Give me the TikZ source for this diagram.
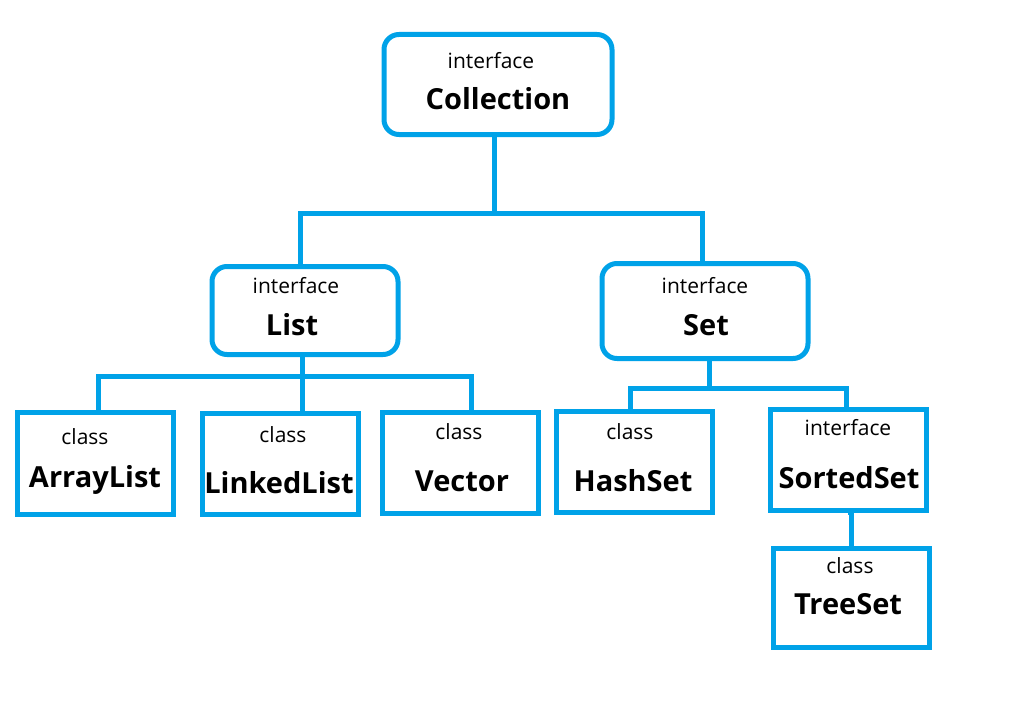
\documentclass[tikz,border=0pt]{standalone}
\usepackage{fontspec}
\setmainfont{Open Sans}
\definecolor{cblue}{HTML}{00A2E8}
\begin{document}
\begin{tikzpicture}[x=1pt,y=-1pt,
  rbox/.style={draw=cblue,line width=5pt,rounded corners=15pt,inner sep=0pt},
  sbox/.style={draw=cblue,line width=5pt,inner sep=0pt},
  kind/.style={inner sep=0pt,font=\fontsize{21}{21}\selectfont},
  cname/.style={inner sep=0pt,font=\fontsize{29}{29}\selectfont\bfseries},
  conn/.style={draw=cblue,line width=5pt,line join=miter}]
\useasboundingbox (0,0) rectangle (1033,709);
% boxes
\node[rbox,minimum width=228pt,minimum height=100pt] (coll) at (498,84.5) {};
\node[rbox,minimum width=186pt,minimum height=88pt] (list) at (305,310.5) {};
\node[rbox,minimum width=206pt,minimum height=95pt] (set) at (705,311) {};
\node[sbox,minimum width=156pt,minimum height=102pt] (al) at (95.5,463.5) {};
\node[sbox,minimum width=156pt,minimum height=101pt] (ll) at (280,463.5) {};
\node[sbox,minimum width=156pt,minimum height=101pt] (vec) at (460,462.5) {};
\node[sbox,minimum width=156pt,minimum height=101pt] (hs) at (634,461.5) {};
\node[sbox,minimum width=156pt,minimum height=101pt] (ss) at (848,459.5) {};
\node[sbox,minimum width=156pt,minimum height=99pt] (ts) at (851,597.5) {};
% texts
\node[kind] (collk) at (491,61) {interface};
\node[cname] (colln) at (498,99) {Collection};
\node[kind] (listk) at (296,286) {interface};
\node[cname] (listn) at (292,325) {List};
\node[kind] (setk) at (705,286) {interface};
\node[cname] (setn) at (706,325) {Set};
\node[kind] (alk) at (85,437) {class};
\node[cname] (aln) at (95,480) {ArrayList};
\node[kind] (llk) at (283,435) {class};
\node[cname] (lln) at (279,483) {LinkedList};
\node[kind] (veck) at (459,432) {class};
\node[cname] (vecn) at (462,481) {Vector};
\node[kind] (hsk) at (630,432) {class};
\node[cname] (hsn) at (633,481) {HashSet};
\node[kind] (ssk) at (848,428) {interface};
\node[cname] (ssn) at (849,478) {SortedSet};
\node[kind] (tsk) at (850,566) {class};
\node[cname] (tsn) at (848,604) {TreeSet};
% junction coordinates
\coordinate (j1) at (494.5,213);
\coordinate (jl) at (300,213);
\coordinate (jr) at (702,213);
\coordinate (j2) at (302,376);
\coordinate (j2l) at (98,376);
\coordinate (j2r) at (471,376);
\coordinate (j3) at (709,388);
\coordinate (j3l) at (630,388);
\coordinate (j3r) at (846,388);
% connectors
\draw[conn] (j1 |- coll.south) -- (j1);
\draw[conn] (jl |- list.north) -- (jl) -- (jr) -- (jr |- set.north);
\draw[conn] (j2 |- list.south) -- (j2 |- ll.north);
\draw[conn] (j2l |- al.north) -- (j2l) -- (j2r) -- (j2r |- vec.north);
\draw[conn] (j3 |- set.south) -- (j3);
\draw[conn] (j3l |- hs.north) -- (j3l) -- (j3r) -- (j3r |- ss.north);
\draw[conn] (ss.south) -- (ss.south -| ts.north) -- (ts.north);
\end{tikzpicture}
\end{document}
